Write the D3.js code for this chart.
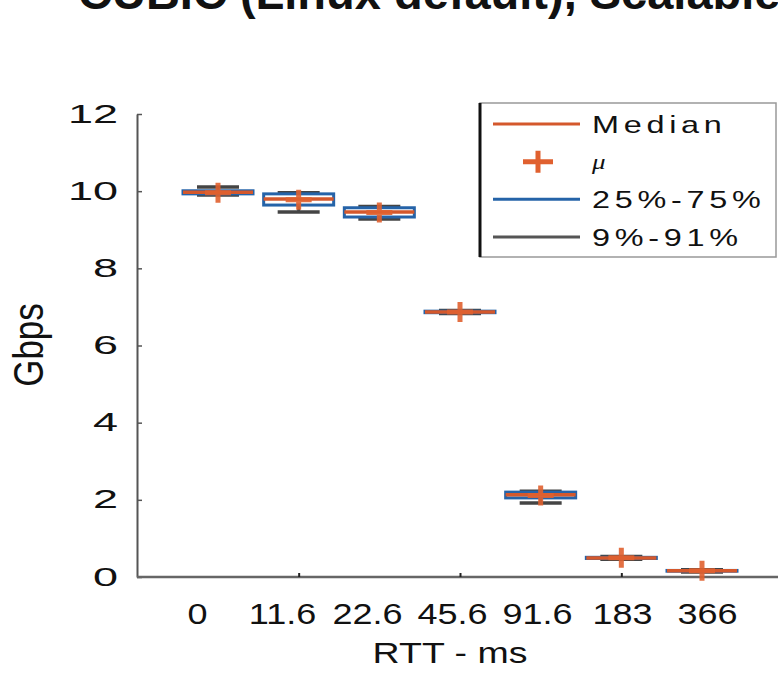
<!DOCTYPE html>
<html>
<head>
<meta charset="utf-8">
<script src="https://cdn.jsdelivr.net/npm/d3@7"></script>
<style>
  html, body { margin: 0; padding: 0; background: #fff; }
  svg { display: block; }
  text { font-family: "Liberation Sans", Arial, Helvetica, sans-serif; fill: #111; }
</style>
</head>
<body>
<svg id="chart" width="778" height="676"></svg>
<script>
// ---- data ----
const categories = ["0", "11.6", "22.6", "45.6", "91.6", "183", "366"];
const p9      = [9.90, 9.46, 9.28, 6.83, 1.92, 0.46, 0.13];
const p25     = [9.93, 9.64, 9.33, 6.85, 2.05, 0.48, 0.15];
const medians = [9.97, 9.80, 9.46, 6.87, 2.13, 0.49, 0.16];
const p75     = [10.01, 9.93, 9.57, 6.89, 2.20, 0.51, 0.17];
const p91     = [10.11, 9.96, 9.60, 6.91, 2.22, 0.53, 0.19];
const means   = [9.96, 9.78, 9.45, 6.87, 2.11, 0.50, 0.16];
const yTicks  = [0, 2, 4, 6, 8, 10, 12];
const legendLabels = ["Median", "\u03bc", "25%-75%", "9%-91%"];
const titleText = "CUBIC (Linux default), Scalable TCP";
const xTitle = "RTT - ms";
const yTitle = "Gbps";

// ---- styles ----
const W = 778, H = 676;
const cOrange = "#d4582c", cCross = "#e0602f", cBlue = "#2563a8", cGrey = "#444";
const plotLeft = 137, plotRight = 800;

const svg = d3.select("#chart");

const x = d3.scalePoint().domain(categories).range([218, 702]);
const xLab = d3.scalePoint().domain(categories).range([197, 707]);
const y = d3.scaleLinear().domain([0, 12]).range([577, 114]);
const boxW = 70, capW = 42;

// title (clipped at the top, as in the reference)
svg.append("text")
  .attr("x", 78).attr("y", 9)
  .style("font-size", "47px").style("font-weight", "bold")
  .text(titleText);

// y axis
const gy = svg.append("g").attr("transform", `translate(${plotLeft},0)`)
  .call(d3.axisLeft(y).tickValues(yTicks).tickSizeInner(-5).tickSizeOuter(0).tickPadding(19));
gy.select(".domain").attr("stroke", "#555").attr("stroke-width", 2);
gy.selectAll(".tick line").attr("stroke", "#555").attr("stroke-width", 1.5);
gy.selectAll(".tick text")
  .attr("x", 0)
  .attr("transform", "translate(-19,0) scale(1.8,1)")
  .style("font-size", "25px").attr("fill", "#222");

// x axis baseline
svg.append("line")
  .attr("x1", plotLeft).attr("x2", plotRight)
  .attr("y1", y(0)).attr("y2", y(0))
  .attr("stroke", "#666").attr("stroke-width", 2.5);

// small tick marks (every other category)
const gxt = svg.append("g").attr("transform", `translate(0,${y(0)})`)
  .call(d3.axisBottom(x).tickValues(categories.filter((d, i) => i % 2 === 1))
    .tickSizeInner(-4).tickSizeOuter(0).tickFormat(""));
gxt.select(".domain").remove();
gxt.selectAll(".tick line").attr("stroke", "#222").attr("stroke-width", 2);

// x tick labels
const gxl = svg.append("g").attr("transform", `translate(0,${y(0)})`)
  .call(d3.axisBottom(xLab).tickSize(0));
gxl.select(".domain").remove();
gxl.selectAll(".tick text")
  .attr("y", 0).attr("dy", 0)
  .attr("transform", "translate(0,47) scale(1.2,1)")
  .style("font-size", "30px").attr("fill", "#111");

// axis titles
svg.append("text")
  .attr("transform", "translate(450,663) scale(1.25,1)")
  .attr("text-anchor", "middle")
  .style("font-size", "30px")
  .text(xTitle);
svg.append("text")
  .attr("transform", "translate(43,345) scale(1.2,1) rotate(-90)")
  .attr("text-anchor", "middle")
  .style("font-size", "35px")
  .text(yTitle);

// boxes
const data = categories.map((c, i) => ({
  c, p9: p9[i], p25: p25[i], med: medians[i], p75: p75[i], p91: p91[i], mean: means[i]
}));
const crossPath = (w, h) => `M${-w / 2},0H${w / 2}M0,${-h / 2}V${h / 2}`;

const g = svg.append("g");
const b = g.selectAll("g.box").data(data).join("g").attr("class", "box")
  .attr("transform", d => `translate(${x(d.c)},0)`);

// whiskers
b.append("line").attr("x1", 0).attr("x2", 0)
  .attr("y1", d => y(d.p91)).attr("y2", d => y(d.p75))
  .attr("stroke", cGrey).attr("stroke-width", 3);
b.append("line").attr("x1", 0).attr("x2", 0)
  .attr("y1", d => y(d.p25)).attr("y2", d => y(d.p9))
  .attr("stroke", cGrey).attr("stroke-width", 3);
b.append("line").attr("x1", -capW / 2).attr("x2", capW / 2)
  .attr("y1", d => y(d.p91)).attr("y2", d => y(d.p91))
  .attr("stroke", cGrey).attr("stroke-width", 3.5);
b.append("line").attr("x1", -capW / 2).attr("x2", capW / 2)
  .attr("y1", d => y(d.p9)).attr("y2", d => y(d.p9))
  .attr("stroke", cGrey).attr("stroke-width", 3.5);
// box 25-75
b.append("rect")
  .attr("x", -boxW / 2).attr("width", boxW)
  .attr("y", d => y(d.p75)).attr("height", d => Math.max(0.5, y(d.p25) - y(d.p75)))
  .attr("fill", "none").attr("stroke", cBlue).attr("stroke-width", 3);
// median
b.append("line").attr("x1", -boxW / 2).attr("x2", boxW / 2)
  .attr("y1", d => y(d.med)).attr("y2", d => y(d.med))
  .attr("stroke", cOrange).attr("stroke-width", 3.5);
// mean cross
b.append("path")
  .attr("transform", d => `translate(0,${y(d.mean)})`)
  .attr("d", crossPath(26, 20))
  .attr("fill", "none").attr("stroke", cCross).attr("stroke-width", 5).attr("opacity", 0.9);

// legend
const lg = svg.append("g").attr("transform", "translate(480,103)");
lg.append("rect").attr("width", 296).attr("height", 154)
  .attr("fill", "#fff").attr("stroke", "#999").attr("stroke-width", 1.5);
lg.append("line").attr("x1", 0).attr("x2", 0).attr("y1", 0).attr("y2", 154)
  .attr("stroke", "#111").attr("stroke-width", 3);
const rowY = d3.scalePoint().domain(legendLabels).range([21, 134]);
const rowColor = [cOrange, cCross, cBlue, "#555"];
legendLabels.forEach((lab, i) => {
  const yy = rowY(lab);
  if (i === 1) {
    lg.append("path").attr("transform", `translate(58,${yy})`)
      .attr("d", crossPath(30, 22))
      .attr("fill", "none").attr("stroke", rowColor[i]).attr("stroke-width", 5);
  } else {
    lg.append("line").attr("x1", 13).attr("x2", 100).attr("y1", yy).attr("y2", yy)
      .attr("stroke", rowColor[i]).attr("stroke-width", 3);
  }
  const t = lg.append("text")
    .attr("transform", `translate(112,${yy}) scale(1.35,1)`)
    .attr("dy", "0.36em")
    .style("font-size", i === 1 ? "20px" : "24px")
    .style("letter-spacing", i === 1 ? "0px" : "3.5px")
    .text(lab);
  if (i === 1) {
    t.style("font-family", "'Liberation Serif', serif").style("font-style", "italic");
  }
});
</script>
</body>
</html>
